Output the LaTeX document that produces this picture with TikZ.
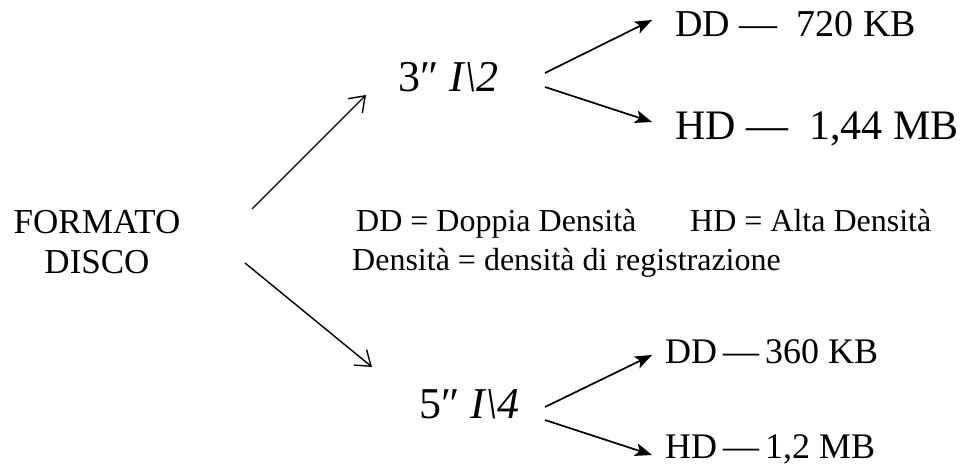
\documentclass[tikz,border=0pt]{standalone}
\usepackage{fontspec}
\setmainfont{Liberation Serif}
\usetikzlibrary{positioning, arrows.meta}

\begin{document}
\begin{tikzpicture}[
    x=1pt, y=-1pt,
    lbl/.style={
        inner sep=0pt,
        anchor=base west
    },
    big/.style={font=\fontsize{44}{48}\selectfont},
    mid/.style={font=\fontsize{38}{44}\selectfont},
    small/.style={font=\fontsize{32}{38}\selectfont},
    arrow/.style={-{Stealth[length=17pt, width=13pt, inset=4pt]}, line width=1.7pt},
    open/.style={-{Straight Barb[length=14pt, width=20pt]}, line width=1.4pt}
]
\useasboundingbox (0,0) rectangle (966,465);

\node[inner sep=0pt, anchor=base, align=center, font=\fontsize{35}{40}\selectfont] (fmt) at (97,273) {FORMATO\\DISCO};

\node[lbl, big] (tre) at (398,92) {3″ \textit{I\textbackslash 2}};
\node[lbl, big] (cinque) at (419,418) {5″ \textit{I\textbackslash 4}};

\node[lbl, mid] (dd1) at (675,37) {DD — \ 720 KB};
\node[lbl, font=\fontsize{42}{46}\selectfont] (hd1) at (675,140) {HD — \ 1,44 MB};
\node[lbl, font=\fontsize{36}{42}\selectfont] (dd2) at (665,363) {DD\,—\,360 KB};
\node[lbl, font=\fontsize{36}{42}\selectfont] (hd2) at (665,458) {HD\,—\,1,2 MB};

\node[lbl, small] (legdd) at (356,232) {DD = Doppia Densità};
\node[lbl, small] (leghd) at (690,232) {HD = Alta Densità};
\node[lbl, small] (legden) at (352,270) {Densità = densità di registrazione};

\draw[open] ([shift={(155,-64)}]fmt.base) -- ([shift={(-32,3)}]tre.base west);
\draw[open] ([shift={(148,-10)}]fmt.base) -- ([shift={(-47,-51)}]cinque.base west);

\draw[arrow] ([shift={(147,-19)}]tre.base west) -- ([shift={(-23,-17)}]dd1.base west);
\draw[arrow] ([shift={(147,-5)}]tre.base west) -- ([shift={(-23,-18)}]hd1.base west);
\draw[arrow] ([shift={(126,-11)}]cinque.base west) -- ([shift={(-13,-8)}]dd2.base west);
\draw[arrow] ([shift={(126,2)}]cinque.base west) -- ([shift={(-13,-3)}]hd2.base west);

\end{tikzpicture}
\end{document}
